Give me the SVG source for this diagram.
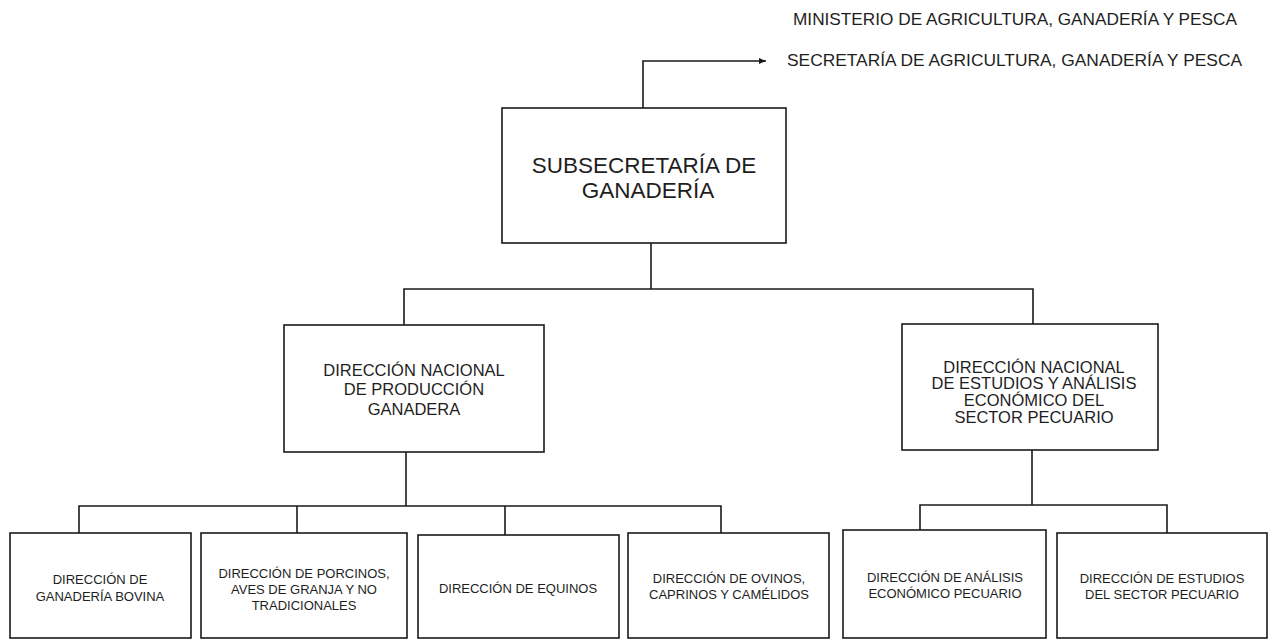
<svg xmlns="http://www.w3.org/2000/svg" width="1274" height="640" viewBox="0 0 1274 640">
<defs>
<style>
.box{fill:#fff;stroke:#1a1a1a;stroke-width:1.6}
.ln{fill:none;stroke:#1a1a1a;stroke-width:1.6}
text{font-family:"Liberation Sans",Arial,sans-serif;fill:#1e1e1e;text-anchor:middle}
.t1{font-size:22.5px}
.t2{font-size:16.5px}
.t3{font-size:13px}
.top{font-size:16.5px;text-anchor:start}
</style>
<marker id="arr" markerWidth="8" markerHeight="8" refX="7" refY="4" orient="auto" markerUnits="userSpaceOnUse">
<path d="M0,1 L7,4 L0,7 Z" fill="#1a1a1a"/>
</marker>
</defs>
<rect width="1274" height="640" fill="#fff"/>

<g id="connectors">
<path class="ln" d="M643,108 V61 H766" marker-end="url(#arr)"/>
<path class="ln" d="M651,243 V289"/>
<path class="ln" d="M404,325 V289 H1033 V324"/>
<path class="ln" d="M406,452 V506"/>
<path class="ln" d="M79,533 V506 H721 V533"/>
<path class="ln" d="M297,506 V533"/>
<path class="ln" d="M505,506 V535"/>
<path class="ln" d="M1032,450 V505"/>
<path class="ln" d="M920,530 V505 H1167 V533"/>
</g>

<g id="ministerio">
<text class="top" x="793" y="25" textLength="444" lengthAdjust="spacingAndGlyphs">MINISTERIO DE AGRICULTURA, GANADERÍA Y PESCA</text>
</g>
<g id="secretaria">
<text class="top" x="787" y="66" textLength="455" lengthAdjust="spacingAndGlyphs">SECRETARÍA DE AGRICULTURA, GANADERÍA Y PESCA</text>
</g>

<g id="subsecretaria">
<rect class="box" x="502" y="108" width="284" height="135"/>
<text class="t1" x="644" y="173">SUBSECRETARÍA DE</text>
<text class="t1" x="648" y="198">GANADERÍA</text>
</g>

<g id="dn-produccion">
<rect class="box" x="284" y="325" width="260" height="127"/>
<text class="t2" x="414" y="376">DIRECCIÓN NACIONAL</text>
<text class="t2" x="414" y="395">DE PRODUCCIÓN</text>
<text class="t2" x="414" y="415">GANADERA</text>
</g>

<g id="dn-estudios">
<rect class="box" x="902" y="324" width="256" height="126"/>
<text class="t2" x="1034" y="373">DIRECCIÓN NACIONAL</text>
<text class="t2" x="1034" y="389">DE ESTUDIOS Y ANÁLISIS</text>
<text class="t2" x="1034" y="406">ECONÓMICO DEL</text>
<text class="t2" x="1034" y="423">SECTOR PECUARIO</text>
</g>

<g id="bovina">
<rect class="box" x="10" y="533" width="181" height="105"/>
<text class="t3" x="100" y="584">DIRECCIÓN DE</text>
<text class="t3" x="100" y="601">GANADERÍA BOVINA</text>
</g>

<g id="porcinos">
<rect class="box" x="201" y="533" width="206" height="105"/>
<text class="t3" x="304" y="578">DIRECCIÓN DE PORCINOS,</text>
<text class="t3" x="304" y="594">AVES DE GRANJA Y NO</text>
<text class="t3" x="304" y="610">TRADICIONALES</text>
</g>

<g id="equinos">
<rect class="box" x="418" y="535" width="201" height="103"/>
<text class="t3" x="518" y="593">DIRECCIÓN DE EQUINOS</text>
</g>

<g id="ovinos">
<rect class="box" x="628" y="533" width="201" height="105"/>
<text class="t3" x="729" y="583">DIRECCIÓN DE OVINOS,</text>
<text class="t3" x="729" y="599">CAPRINOS Y CAMÉLIDOS</text>
</g>

<g id="analisis">
<rect class="box" x="843" y="530" width="203" height="108"/>
<text class="t3" x="945" y="582">DIRECCIÓN DE ANÁLISIS</text>
<text class="t3" x="945" y="598">ECONÓMICO PECUARIO</text>
</g>

<g id="estudios">
<rect class="box" x="1057" y="533" width="210" height="105"/>
<text class="t3" x="1162" y="583">DIRECCIÓN DE ESTUDIOS</text>
<text class="t3" x="1162" y="599">DEL SECTOR PECUARIO</text>
</g>
</svg>
